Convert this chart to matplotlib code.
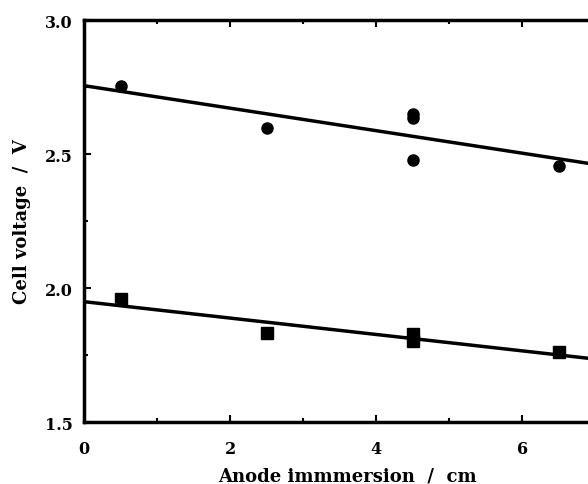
import matplotlib
matplotlib.use("Agg")
import matplotlib.pyplot as plt
import numpy as np
from matplotlib.ticker import MultipleLocator

# circles (upper series) and squares (lower series)
circ_x = [0.5, 2.5, 4.5, 4.5, 4.5, 6.5]
circ_y = [2.752, 2.596, 2.650, 2.635, 2.476, 2.455]
sq_x = [0.5, 2.5, 4.5, 4.5, 6.5]
sq_y = [1.959, 1.832, 1.830, 1.803, 1.760]

# fitted lines: intercept, slope
circ_fit = [2.755, -0.042]
sq_fit = [1.949, -0.0306]

plt.rcParams['font.family'] = ['DejaVu Serif']
plt.rcParams['font.weight'] = 'bold'

fig = plt.figure(figsize=(5.88, 4.85), dpi=100)
# axes run past the right edge of the figure (the original is cropped)
ax = fig.add_axes([84/588, 62/485, 526/588, 402/485])

xs = np.array([0, 7.2])
ax.plot(xs, circ_fit[0] + circ_fit[1]*xs, color='black', lw=2.5)
ax.plot(xs, sq_fit[0] + sq_fit[1]*xs, color='black', lw=2.5)
ax.plot(circ_x, circ_y, 'o', color='black', ms=8)
ax.plot(sq_x, sq_y, 's', color='black', ms=8)

ax.set_xlim(0, 7.2)
ax.set_ylim(1.5, 3.0)
ax.xaxis.set_major_locator(MultipleLocator(2))
ax.xaxis.set_minor_locator(MultipleLocator(1))
ax.yaxis.set_major_locator(MultipleLocator(0.5))
ax.yaxis.set_minor_locator(MultipleLocator(0.25))
ax.set_xticks([0, 2, 4, 6])
ax.set_yticks([1.5, 2.0, 2.5, 3.0])
ax.set_yticklabels(['1.5', '2.0', '2.5', '3.0'])

for s in ax.spines.values():
    s.set_linewidth(2.5)
ax.tick_params(which='both', direction='in', top=True, right=True, width=1.5)
ax.tick_params(which='major', length=5, labelsize=11.5)
ax.tick_params(which='minor', length=3)
ax.tick_params(axis='x', pad=13)
ax.tick_params(axis='y', pad=8)

ax.set_xlabel('Anode immmersion  /  cm', fontsize=13, fontweight='bold', labelpad=7)
ax.set_ylabel('Cell voltage  /  V', fontsize=13, fontweight='bold', labelpad=10)

fig.savefig('out.png', dpi=100)
